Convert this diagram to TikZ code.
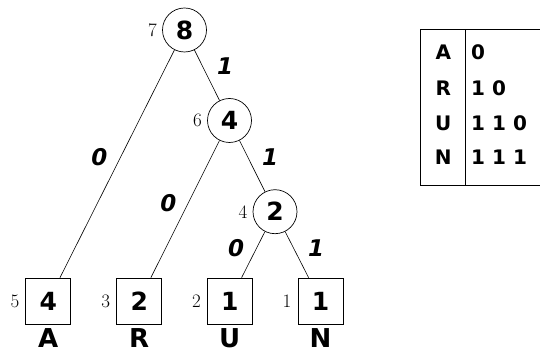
\documentclass[tikz,border=0pt]{standalone}
\usepackage{fontspec}
\newfontfamily\dv{DejaVu Sans}
\tikzset{
  inner/.style={circle,draw,line width=0.7pt,minimum size=44pt,inner sep=0pt,font=\dv\bfseries\fontsize{25}{25}\selectfont},
  leaf/.style={rectangle,draw,line width=0.7pt,minimum width=45pt,minimum height=46pt,inner sep=0pt,font=\dv\bfseries\fontsize{25}{25}\selectfont},
  num/.style={font=\fontsize{19}{19}\selectfont,inner sep=0pt,anchor=east},
  sym/.style={font=\dv\bfseries\fontsize{26}{26}\selectfont,inner sep=0pt},
  bit/.style={font=\dv\bfseries\itshape\fontsize{23}{23}\selectfont,inner sep=0pt},
  tab/.style={font=\dv\bfseries\fontsize{20}{20}\selectfont,inner sep=0pt},
  edge/.style={line width=0.6pt}
}
\begin{document}
\begin{tikzpicture}[x=1pt,y=-1pt]
\useasboundingbox (0,0) rectangle (540,352);
% tree nodes
\node[inner] (n8) at (184.5,30) {8};
\node[inner] (n4) at (229.5,120.5) {4};
\node[inner] (n2) at (275,211.7) {2};
\node[leaf] (lA) at (48.3,301) {4};
\node[leaf] (lR) at (139.2,301) {2};
\node[leaf] (lU) at (229.8,301) {1};
\node[leaf] (lN) at (320.5,301) {1};
% order numbers
\node[num] (o7) at ([xshift=-5pt]n8.west) {7};
\node[num] (o6) at ([xshift=-5pt]n4.west) {6};
\node[num] (o4) at ([xshift=-5pt]n2.west) {4};
\node[num] (o5) at ([xshift=-6pt]lA.west) {5};
\node[num] (o3) at ([xshift=-6pt]lR.west) {3};
\node[num] (o2) at ([xshift=-6pt]lU.west) {2};
\node[num] (o1) at ([xshift=-6pt]lN.west) {1};
% letters
\node[sym] (sA) at (48.3,338.5) {A};
\node[sym] (sR) at (139.2,338.5) {R};
\node[sym] (sU) at (229.8,338.5) {U};
\node[sym] (sN) at (320.5,338.5) {N};
% edges
\draw[edge] (n8) -- (lA);
\draw[edge] (n8) -- (n4);
\draw[edge] (n4) -- (lR);
\draw[edge] (n4) -- (n2);
\draw[edge] (n2) -- (lU);
\draw[edge] (n2) -- (lN);
% edge labels
\node[bit] (b1) at (225,66) {1};
\node[bit] (b2) at (99.3,157) {0};
\node[bit] (b3) at (270,157) {1};
\node[bit] (b4) at (168.3,203.5) {0};
\node[bit] (b5) at (236,248.5) {0};
\node[bit] (b6) at (316,248.5) {1};
% table
\draw[line width=0.7pt] (540,29.3) -- (420.7,29.3) -- (420.7,185) -- (540,185);
\draw[line width=0.7pt] (465.7,29.3) -- (465.7,185);
\node[tab] (tA) at (443.3,52) {A};
\node[tab] (tR) at (443.3,88.3) {R};
\node[tab] (tU) at (443.3,123.3) {U};
\node[tab] (tN) at (443.3,157) {N};
\node[tab,anchor=west] (cA) at (471,52) {0};
\node[tab,anchor=west] (cR) at (471,88.3) {1\hspace{7pt}0};
\node[tab,anchor=west] (cU) at (471,123.3) {1\hspace{7pt}1\hspace{7pt}0};
\node[tab,anchor=west] (cN) at (471,157) {1\hspace{7pt}1\hspace{7pt}1};
\end{tikzpicture}
\end{document}
